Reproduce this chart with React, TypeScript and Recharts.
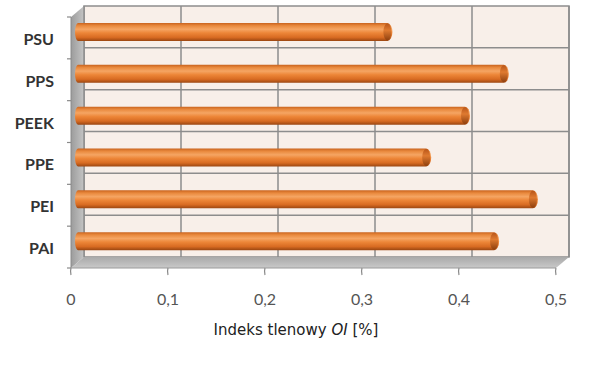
import React from "react";
import { BarChart, Bar, XAxis, YAxis, CartesianGrid } from "recharts";

const categories = ["PSU", "PPS", "PEEK", "PPE", "PEI", "PAI"];
const oiValues = [0.32, 0.44, 0.4, 0.36, 0.47, 0.43];
const xTicks = [0, 0.1, 0.2, 0.3, 0.4, 0.5];

const data = categories.map((name, i) => ({ name, value: oiValues[i] }));

const W = 599;
const H = 372;
const MARGIN = { top: 6, right: 30, bottom: 35, left: 0 };
const Y_AXIS_W = 84;
const X_AXIS_H = 80;
const DEPTH_X = -13;
const DEPTH_Y = 11;

const PL = MARGIN.left + Y_AXIS_W;
const PT = MARGIN.top;
const PR = W - MARGIN.right;
const PB = H - MARGIN.bottom - X_AXIS_H;

const BACK = "#f8efe9";
const GRID = "#8d8d8d";

function Walls() {
  const band = (PB - PT) / categories.length;
  return (
    <svg width={W} height={H} style={{ position: "absolute", left: 0, top: 0 }}>
      <defs>
        <linearGradient id="leftWall" x1="0" y1="0" x2="1" y2="0">
          <stop offset="0%" stopColor="#9c9c9c" />
          <stop offset="100%" stopColor="#c4c4c4" />
        </linearGradient>
        <linearGradient id="floor" x1="0" y1="0" x2="0" y2="1">
          <stop offset="0%" stopColor="#a9a9a9" />
          <stop offset="100%" stopColor="#c9c9c9" />
        </linearGradient>
      </defs>
      <rect x={PL} y={PT} width={PR - PL} height={PB - PT} fill={BACK} stroke={GRID} strokeWidth={1.5} />
      {categories.map((_, i) =>
        i === 0 ? null : (
          <line key={i} x1={PL} x2={PR} y1={PT + i * band} y2={PT + i * band} stroke={GRID} strokeWidth={1.5} />
        )
      )}
      <polygon
        points={`${PL},${PT} ${PL},${PB} ${PL + DEPTH_X},${PB + DEPTH_Y} ${PL + DEPTH_X},${PT + DEPTH_Y}`}
        fill="url(#leftWall)"
      />
      <polygon
        points={`${PL},${PB} ${PR},${PB} ${PR + DEPTH_X},${PB + DEPTH_Y} ${PL + DEPTH_X},${PB + DEPTH_Y}`}
        fill="url(#floor)"
      />
      <line x1={PL + DEPTH_X} x2={PL + DEPTH_X} y1={PT + DEPTH_Y} y2={PB + DEPTH_Y} stroke="#8a8a8a" strokeWidth={1} />
      <line x1={PL + DEPTH_X} x2={PR + DEPTH_X} y1={PB + DEPTH_Y} y2={PB + DEPTH_Y} stroke="#9a9a9a" strokeWidth={1} />
      {Array.from({ length: categories.length + 1 }, (_, i) => (
        <line
          key={`yt${i}`}
          x1={PL + DEPTH_X - 4}
          x2={PL + DEPTH_X}
          y1={PT + DEPTH_Y + i * band}
          y2={PT + DEPTH_Y + i * band}
          stroke="#8a8a8a"
          strokeWidth={1.2}
        />
      ))}
    </svg>
  );
}

function CylinderBar(props: any) {
  const { x, y, width, height } = props;
  if (width == null || width <= 0) return null;
  const x0 = x - 9;
  const x1 = x + width - 2;
  const top = y + 5;
  const h = height;
  const r = h / 2;
  return (
    <g>
      <path
        d={`M${x0 + 3},${top} L${x1 - 5},${top} A5,${r} 0 0 1 ${x1 - 5},${top + h} L${x0 + 3},${top + h} A3,${r} 0 0 1 ${x0 + 3},${top} Z`}
        fill="url(#cyl)"
      />
      <ellipse cx={x1 - 5} cy={top + r} rx={4} ry={r - 0.5} fill="url(#cap)" />
    </g>
  );
}

function FrontTick(props: any) {
  const { x, payload } = props;
  const fx = x + DEPTH_X;
  const fy = PB + DEPTH_Y;
  return (
    <g>
      <path d={`M${fx},${fy} q-1,3 0,7`} stroke="#8a8a8a" fill="none" strokeWidth={1.2} />
      <text x={fx} y={fy + 37} textAnchor="middle" fontFamily="Lato, 'Open Sans', sans-serif" fontSize={16} fill="#555">
        {String(payload.value).replace(".", ",")}
      </text>
    </g>
  );
}

function CategoryTick(props: any) {
  const { y, payload } = props;
  return (
    <text x={54} y={y + 18} textAnchor="end" fontFamily="Lato, 'Open Sans', sans-serif" fontWeight={700} fontSize={16} fill="#333">
      {payload.value}
    </text>
  );
}

export default function App() {
  return (
    <div style={{ position: "absolute", left: 0, top: 0, width: W, height: H, background: "#fff" }}>
      <Walls />
      <div style={{ position: "absolute", left: 0, top: 0 }}>
        <BarChart width={W} height={H} data={data} layout="vertical" margin={MARGIN} barSize={18}>
          <defs>
            <linearGradient id="cyl" x1="0" y1="0" x2="0" y2="1">
              <stop offset="0%" stopColor="#c9631e" />
              <stop offset="15%" stopColor="#e9893d" />
              <stop offset="35%" stopColor="#f5a563" />
              <stop offset="55%" stopColor="#ed8638" />
              <stop offset="80%" stopColor="#d86b22" />
              <stop offset="100%" stopColor="#9b4611" />
            </linearGradient>
            <linearGradient id="cap" x1="0" y1="0" x2="0" y2="1">
              <stop offset="0%" stopColor="#b8561a" />
              <stop offset="40%" stopColor="#df7a30" />
              <stop offset="100%" stopColor="#8e3f0e" />
            </linearGradient>
          </defs>
          <CartesianGrid horizontal={false} stroke={GRID} strokeWidth={1.5} fill="none" />
          <XAxis
            type="number"
            domain={[0, 0.5]}
            ticks={xTicks}
            height={X_AXIS_H}
            axisLine={false}
            tickLine={false}
            tick={<FrontTick />}
            interval={0}
            label={{
              position: "bottom",
              content: () => (
                <text x={296} y={335} textAnchor="middle" fontFamily="'DejaVu Sans', sans-serif" fontSize={15} fill="#222">
                  Indeks tlenowy <tspan fontStyle="italic">OI</tspan> [%]
                </text>
              ),
            }}
          />
          <YAxis
            type="category"
            dataKey="name"
            width={Y_AXIS_W}
            axisLine={false}
            tickLine={false}
            tick={<CategoryTick />}
            interval={0}
          />
          <Bar dataKey="value" shape={<CylinderBar />} isAnimationActive={false} />
        </BarChart>
      </div>
    </div>
  );
}
